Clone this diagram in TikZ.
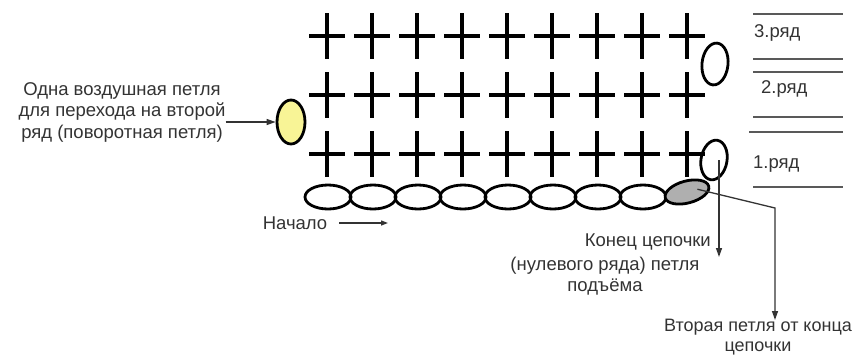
\documentclass[tikz,border=0pt]{standalone}
\usepackage{fontspec}
\setmainfont{Liberation Sans}
\usepackage{tikz}
\usetikzlibrary{shapes.geometric,arrows.meta,calc}
\definecolor{loopyellow}{RGB}{248,244,150}
\definecolor{loopgray}{RGB}{175,175,175}
\tikzset{
CROSS/.style ={draw=black,line cap=butt,line width=3.2pt},
LOOP/.style ={draw=black,ellipse,line width=2.8pt,inner sep=0pt,minimum width=46pt,minimum height=24pt},
TURN/.style ={LOOP,minimum width=26pt,minimum height=42pt},
ROWLINE/.style ={draw=black!65,line width=2pt},
POINTER/.style ={draw=black!80,line width=1.3pt,-{Triangle[length=9pt,width=6pt]}},
LABEL/.style ={text=black!80,font=\fontsize{18.5}{21.5}\selectfont,inner sep=0pt},
}
\begin{document}
\begin{tikzpicture}[x=1pt, y=-1pt, auto] %chain and three rows
	\useasboundingbox (0,0) rectangle (855,360);
	\foreach \row in {36,95,154}{
		\foreach \col in {0,...,8}{
			\path[CROSS] ({327+45*\col-18},\row) -- ({327+45*\col+18},\row);
			\path[CROSS] ({327+45*\col},{\row-23}) -- ({327+45*\col},{\row+23});
		}
	}
	\foreach \i in {0,...,7}
		\node[LOOP] (ch\i) at ({328+45*\i},197) {};
	\node[LOOP,fill=loopgray,rotate=15,minimum width=45pt,minimum height=22pt] (chend) at (687,192) {};
	\node[TURN,rotate=-6] (turnC) at (715,64) {};
	\node[TURN,rotate=-10,minimum height=40pt] (turnA) at (714,160) {};
	\node[TURN,fill=loopyellow,minimum width=28pt,minimum height=44pt] (turnB) at (291,122) {};
	\foreach \y in {14,59,72,117,187}
		\path[ROWLINE] (753,\y) -- (843,\y);
	\path[ROWLINE] (749,132) -- (843,132);
	\node[LABEL,anchor=west] (row3) at (754,33) {3.ряд};
	\node[LABEL,anchor=west] (row2) at (761,89) {2.ряд};
	\node[LABEL,anchor=west] (row1) at (753,164) {1.ряд};
	\node[LABEL,align=center] (turntext) at (122,112) {Одна воздушная петля\\для перехода на второй\\ряд (поворотная петля)};
	\path[POINTER] (turntext.east |- turnB.west) -- (turnB.west);
	\node[LABEL] (start) at (295,223) {Начало};
	\coordinate (startend) at (388,223);
	\path[POINTER,-{Triangle[length=7pt,width=5pt]}] ([xshift=12pt]start.east) -- (startend);
	\node[LABEL,anchor=east] (endtext) at (711,242) {Конец цепочки};
	\node[LABEL,align=center] (endtextB) at (605,276) {(нулевого ряда) петля\\подъёма};
	\coordinate (endtip) at (719,257);
	\path[POINTER] (turnA.center -| endtip) -- (endtip);
	\node[LABEL,align=center,font=\fontsize{18}{20}\selectfont] (secondtext) at (758,337) {Вторая петля от конца\\цепочки};
	\coordinate (bend) at (775,208);
	\coordinate (secondtip) at (775,320);
	\path[POINTER] ($(chend.center)!.45!(chend.east)$) -- (bend) -- (secondtip);
\end{tikzpicture}
\end{document}
